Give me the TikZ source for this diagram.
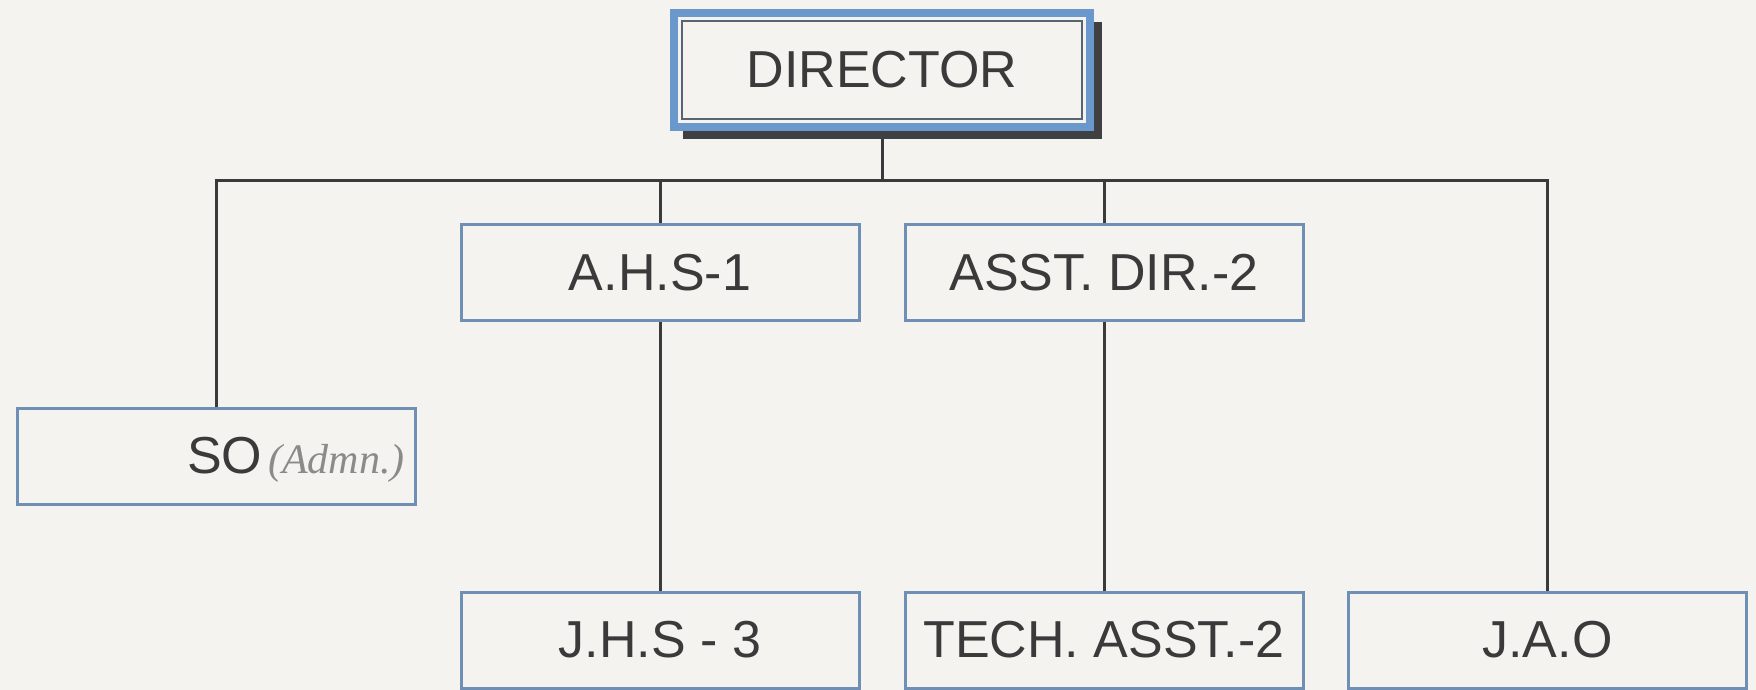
\documentclass[tikz,border=0pt]{standalone}
\usepackage{fontspec}
\setmainfont{Liberation Sans}
\newfontfamily\handfont{Liberation Serif}
\usetikzlibrary{backgrounds}

\definecolor{paper}{HTML}{F4F3EF}
\definecolor{boxblue}{HTML}{6F8FB4}
\definecolor{dirblue}{HTML}{6B98CC}
\definecolor{framegray}{HTML}{5A6470}
\definecolor{shadowgray}{HTML}{3E4042}
\definecolor{ink}{HTML}{3A3A3A}
\definecolor{pencil}{HTML}{8A8A8A}

\begin{document}
\begin{tikzpicture}[
  x=0.5pt, y=-0.5pt,
  post/.style={draw=boxblue, line width=1.5pt, fill=paper, inner sep=0pt,
    minimum width=199pt, minimum height=48pt, text=ink,
    font=\fontsize{26}{30}\selectfont},
  head/.style={draw=framegray, line width=1pt, fill=paper, inner sep=0pt,
    minimum width=200pt, minimum height=49pt, text=ink,
    font=\fontsize{26}{30}\selectfont,
    preaction={fill=shadowgray, draw=shadowgray, line width=9.5pt,
      transform canvas={shift={(10.5,10.5)}}},
    preaction={draw=dirblue, line width=12pt},
    preaction={draw=paper, line width=4pt}},
  wire/.style={draw=ink, line width=1.5pt}
]
\useasboundingbox (0,0) rectangle (1756,690);

\node [head] (dir) at (882,70) {DIRECTOR};

\node [post] (ahs)  at (660,272.5)  {A.H.S-1};
\node [post] (asst) at (1104,272.5) {ASST. DIR.-2};
\node [post] (so)   at (216,456.5)  {};
\node [anchor=base west, text=ink, font=\fontsize{26}{30}\selectfont]
  (sotext) at (180,473)
  {SO\hspace{3pt}{\handfont\itshape\fontsize{21}{24}\selectfont\color{pencil}(Admn.)}};

\node [post] (jhs)  at (660,640)    {J.H.S - 3};
\node [post] (tech) at (1104,640)   {TECH. ASST.-2};
\node [post] (jao)  at (1547.5,640) {J.A.O};

\coordinate (bus) at (882,180);

\begin{scope}[on background layer]
\fill [paper] (0,0) rectangle (1756,690);
\draw [wire] (dir.south) -- (dir.south |- bus);
\draw [wire] (so.north) -- (so.north |- bus) -- (jao.north |- bus) -- (jao.north);
\draw [wire] (ahs.north |- bus) -- (ahs.north);
\draw [wire] (asst.north |- bus) -- (asst.north);
\draw [wire] (ahs.south) -- (jhs.north);
\draw [wire] (asst.south) -- (tech.north);
\end{scope}
\end{tikzpicture}
\end{document}
